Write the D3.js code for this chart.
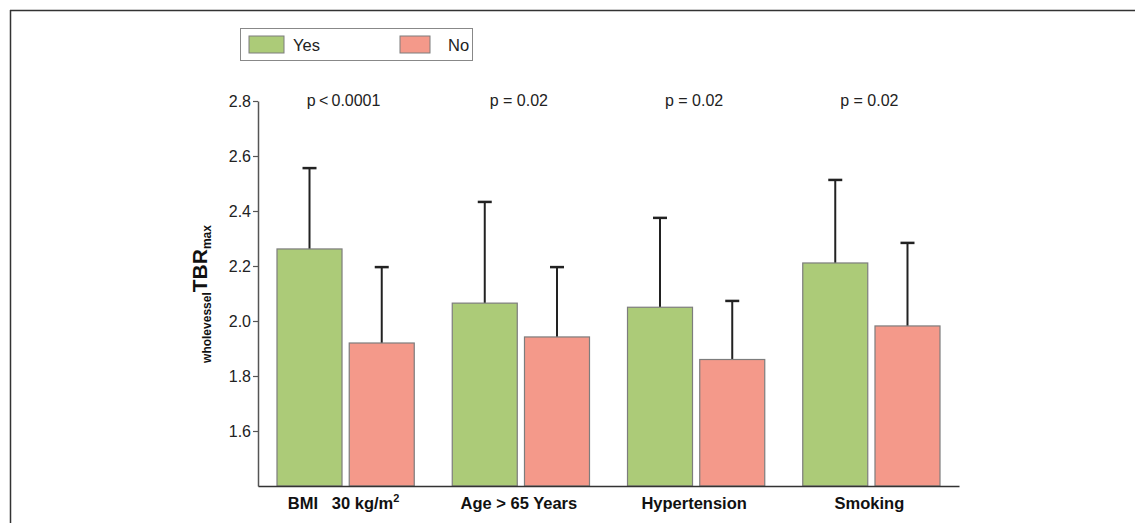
<!DOCTYPE html>
<html>
<head>
<meta charset="utf-8">
<script src="https://cdn.jsdelivr.net/npm/d3@7"></script>
<style>
  body { margin: 0; background: #fff; }
  svg { display: block; font-family: "Liberation Sans", Arial, sans-serif; }
</style>
</head>
<body>
<div id="chart"></div>
<script>
// chart data
var categories = ["BMI   30 kg/m", "Age > 65 Years", "Hypertension", "Smoking"];
var groups = ["Yes", "No"];
var yesMeans = [2.262, 2.065, 2.050, 2.211];
var yesErr = [2.556, 2.433, 2.375, 2.513];
var noMeans = [1.920, 1.942, 1.860, 1.982];
var noErr = [2.196, 2.196, 2.073, 2.284];
var pValues = ["p\u2009<\u20090.0001", "p = 0.02", "p = 0.02", "p = 0.02"];
var yTicks = [1.6, 1.8, 2.0, 2.2, 2.4, 2.6, 2.8];

var colors = { Yes: "#accb78", No: "#f4998a" };

var svgWidth = 1135;
var svgHeight = 523;

var svg = d3.select("#chart")
  .append("svg")
  .attr("width", svgWidth)
  .attr("height", svgHeight);

// frame lines (top and left)
svg.append("line")
  .attr("x1", 10).attr("x2", svgWidth)
  .attr("y1", 10.5).attr("y2", 10.5)
  .attr("stroke", "#333").attr("stroke-width", 1.5);
svg.append("line")
  .attr("x1", 10.5).attr("x2", 10.5)
  .attr("y1", 10).attr("y2", svgHeight)
  .attr("stroke", "#333").attr("stroke-width", 1.5);

// scales
var x0 = d3.scaleBand()
  .domain(categories)
  .range([258, 959]);

var x1 = d3.scaleBand()
  .domain(groups)
  .range([19, x0.bandwidth() - 19])
  .paddingInner(0.1);

var y = d3.scaleLinear()
  .domain([1.4, 2.8])
  .range([486, 101]);

// build rows from arrays
var rows = categories.map(function(c, i) {
  return [
    { cat: c, group: "Yes", mean: yesMeans[i], err: yesErr[i] },
    { cat: c, group: "No", mean: noMeans[i], err: noErr[i] }
  ];
});

var catGroup = svg.append("g").selectAll("g")
  .data(rows)
  .enter()
  .append("g")
  .attr("transform", (d, i) => `translate(${x0(categories[i])},0)`);

// error bars (behind bars)
catGroup.selectAll("line.err")
  .data(d => d)
  .enter()
  .append("line")
  .attr("class", "err")
  .attr("x1", d => x1(d.group) + x1.bandwidth() / 2)
  .attr("x2", d => x1(d.group) + x1.bandwidth() / 2)
  .attr("y1", d => y(d.mean))
  .attr("y2", d => y(d.err))
  .attr("stroke", "#222")
  .attr("stroke-width", 2);

catGroup.selectAll("line.cap")
  .data(d => d)
  .enter()
  .append("line")
  .attr("class", "cap")
  .attr("x1", d => x1(d.group) + x1.bandwidth() / 2 - 7)
  .attr("x2", d => x1(d.group) + x1.bandwidth() / 2 + 7)
  .attr("y1", d => y(d.err))
  .attr("y2", d => y(d.err))
  .attr("stroke", "#222")
  .attr("stroke-width", 2.5);

catGroup.selectAll("rect")
  .data(d => d)
  .enter()
  .append("rect")
  .attr("x", d => x1(d.group))
  .attr("y", d => y(d.mean))
  .attr("width", x1.bandwidth())
  .attr("height", d => y(1.4) - y(d.mean))
  .attr("fill", d => colors[d.group])
  .attr("stroke", "#7d7d7d")
  .attr("stroke-width", 1.2);

// p values
svg.append("g").selectAll("text")
  .data(pValues)
  .enter()
  .append("text")
  .attr("x", (d, i) => x0(categories[i]) + x0.bandwidth() / 2 - 2)
  .attr("y", 106)
  .attr("text-anchor", "middle")
  .attr("font-size", "16px")
  .attr("fill", "#222")
  .text(d => d);

// y axis
var leftAxis = d3.axisLeft(y)
  .tickValues(yTicks)
  .tickFormat(d3.format(".1f"))
  .tickSize(5)
  .tickSizeOuter(0);

var yAxisG = svg.append("g")
  .attr("transform", "translate(258,0)")
  .call(leftAxis);
yAxisG.select(".domain").attr("stroke", "#555").attr("stroke-width", 1.5);
yAxisG.selectAll(".tick line").attr("stroke", "#555").attr("stroke-width", 1.2);
yAxisG.selectAll(".tick text")
  .attr("font-family", "Liberation Sans, Arial, sans-serif")
  .attr("font-size", "16px")
  .attr("fill", "#222")
  .attr("x", -7);

// x axis
var bottomAxis = d3.axisBottom(x0)
  .tickSize(0)
  .tickSizeOuter(0);

var xAxisG = svg.append("g")
  .attr("transform", "translate(0,486)")
  .call(bottomAxis);
xAxisG.select(".domain").attr("stroke", "#333").attr("stroke-width", 1.5);
xAxisG.selectAll(".tick text")
  .attr("font-family", "Liberation Sans, Arial, sans-serif")
  .attr("font-size", "16.5px")
  .attr("font-weight", "700")
  .attr("fill", "#111")
  .attr("dy", "1.2em")
  .attr("dx", -2)
  .style("white-space", "pre")
  .each(function(d) {
    if (d.indexOf("kg/m") >= 0) {
      d3.select(this).append("tspan")
        .attr("font-size", "11px")
        .attr("dy", "-7")
        .text("2");
    }
  });

// y axis label
var yLabel = svg.append("text")
  .attr("transform", "translate(211,294) rotate(-90)")
  .attr("text-anchor", "middle")
  .attr("font-weight", "700")
  .attr("fill", "#111");
yLabel.append("tspan")
  .attr("font-size", "12px")
  .attr("dy", 0)
  .text("wholevessel");
yLabel.append("tspan")
  .attr("font-size", "21px")
  .attr("dy", -4)
  .text("TBR");
yLabel.append("tspan")
  .attr("font-size", "12px")
  .attr("dy", 4)
  .text("max");

// legend
var legend = svg.append("g");
legend.append("rect")
  .attr("x", 240.5).attr("y", 28.5)
  .attr("width", 232).attr("height", 32)
  .attr("fill", "#fff")
  .attr("stroke", "#888");

var legendX = { Yes: 249, No: 400 };
var legendItem = legend.selectAll("g.item")
  .data(groups)
  .enter()
  .append("g")
  .attr("class", "item")
  .attr("transform", d => `translate(${legendX[d]},36)`);

legendItem.append("rect")
  .attr("width", d => d === "Yes" ? 35 : 30)
  .attr("height", 17)
  .attr("fill", d => colors[d])
  .attr("stroke", "#7d7d7d");

legendItem.append("text")
  .attr("x", d => d === "Yes" ? 44 : 48)
  .attr("y", 15)
  .attr("font-size", "16.5px")
  .attr("fill", "#222")
  .text(d => d);
</script>
</body>
</html>
